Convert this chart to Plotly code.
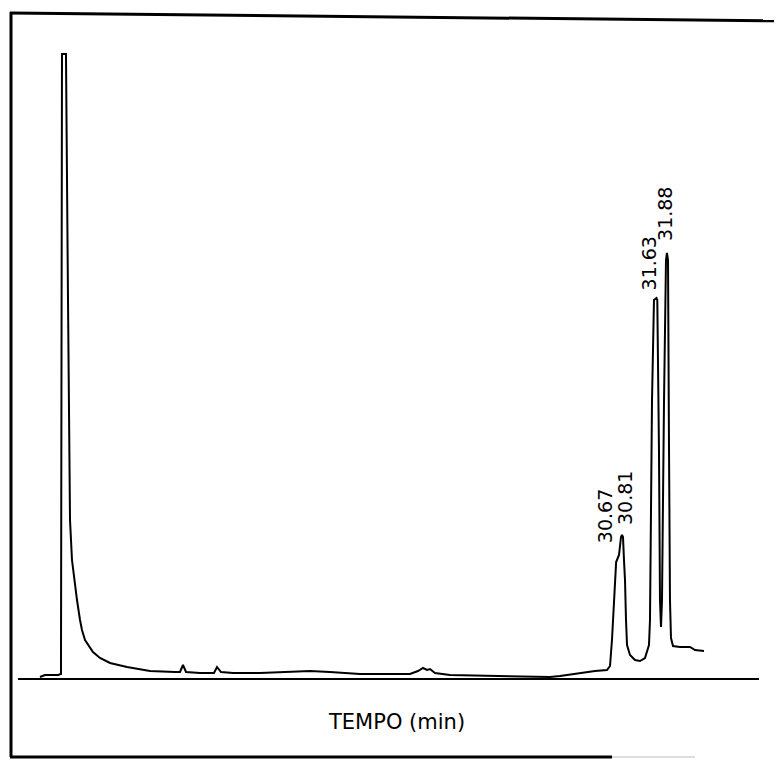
import plotly.graph_objects as go

# Chromatogram trace (time in minutes, detector response in arbitrary units)
time_min = [16.952, 17.071, 17.381, 17.429, 17.452, 17.476, 17.571, 17.619, 17.643, 17.667,
            17.714, 17.786, 17.833, 17.905, 17.952, 18.024, 18.095, 18.214, 18.381, 18.619,
            19.024, 19.571, 20.167, 20.286, 20.357, 20.429, 20.762, 21.095, 21.167, 21.262,
            21.548, 22.190, 22.786, 23.381, 23.857, 24.571, 25.762, 25.952, 26.071, 26.167,
            26.238, 26.357, 26.714, 27.667, 29.095, 29.333, 29.810, 30.167, 30.452, 30.524,
            30.571, 30.619, 30.650, 30.670, 30.738, 30.786, 30.810, 30.833, 30.857, 30.881,
            30.905, 30.929, 31.000, 31.119, 31.238, 31.357, 31.452, 31.476, 31.524, 31.571,
            31.630, 31.650, 31.690, 31.714, 31.738, 31.762, 31.810, 31.857, 31.880, 31.905,
            31.929, 31.952, 31.976, 32.024, 32.190, 32.429, 32.548, 32.762]
signal = [2, 4, 4, 5, 5, 625, 625, 379, 229, 159,
          119, 94, 79, 59, 49, 39, 34, 27, 21, 16,
          12, 8, 7, 7, 14, 7, 6, 6, 12, 7,
          6, 6, 7, 8, 7, 5, 5, 8, 11, 9,
          10, 6, 4, 3, 2, 3, 6, 8, 9, 13,
          39, 79, 104, 117, 124, 142, 144, 142, 119, 99,
          59, 34, 24, 19, 18, 21, 34, 59, 279, 379,
          381, 379, 229, 79, 52, 79, 279, 419, 426, 419,
          229, 79, 41, 33, 32, 32, 29, 28]

# Peak annotations
peak_labels = ["30.67", "30.81", "31.63", "31.88"]
peak_times = [30.67, 30.81, 31.63, 31.88]
peak_heights = [117, 144, 381, 426]
label_xshift = [-11, 3, -7, -2]
label_yshift = [17, 8, 6, 10]

axis_title = "TEMPO (min)"

W, H = 782, 760
OFF = 8  # page body margin


def px(x):
    return (x - OFF) / W


def py(y):
    return 1 - (y - OFF) / H


fig = go.Figure()
fig.add_trace(go.Scatter(x=time_min, y=signal, mode="lines",
                         line=dict(color="black", width=2),
                         hoverinfo="skip", showlegend=False))

for lab, t, h, dx, dy in zip(peak_labels, peak_times, peak_heights, label_xshift, label_yshift):
    fig.add_annotation(x=t, y=h, xref="x", yref="y", text=lab, showarrow=False,
                       textangle=-90, xanchor="center", yanchor="bottom",
                       xshift=dx, yshift=dy,
                       font=dict(family="DejaVu Sans", size=19, color="black"))

fig.add_annotation(x=px(396), y=py(722), xref="paper", yref="paper", text=axis_title,
                   showarrow=False, xanchor="center", yanchor="middle",
                   font=dict(family="DejaVu Sans", size=21, color="black"))

shapes = [
    # baseline axis
    dict(type="line", xref="paper", yref="y", x0=px(18), x1=px(759), y0=0, y1=0,
         line=dict(color="black", width=2)),
    # frame: left, top, bottom
    dict(type="line", xref="paper", yref="paper", x0=px(11), x1=px(11), y0=py(12), y1=py(757),
         line=dict(color="black", width=3)),
    dict(type="line", xref="paper", yref="paper", x0=px(10), x1=px(790), y0=py(13), y1=py(21),
         line=dict(color="black", width=3)),
    dict(type="line", xref="paper", yref="paper", x0=px(10), x1=px(612), y0=py(757), y1=py(757),
         line=dict(color="black", width=3)),
    dict(type="line", xref="paper", yref="paper", x0=px(612), x1=px(695), y0=py(757), y1=py(757),
         line=dict(color="#bbbbbb", width=1)),
]

fig.update_layout(
    width=W, height=H, autosize=False,
    margin=dict(l=0, r=0, t=0, b=0),
    paper_bgcolor="white", plot_bgcolor="white",
    xaxis=dict(range=[16.0 + OFF / 42, 16.0 + (W + OFF) / 42], visible=False, fixedrange=True),
    yaxis=dict(range=[679 - OFF - H, 679 - OFF], visible=False, fixedrange=True),
    shapes=shapes,
    hovermode=False,
    showlegend=False,
)

fig.write_html("out.html", config={"displayModeBar": False})
